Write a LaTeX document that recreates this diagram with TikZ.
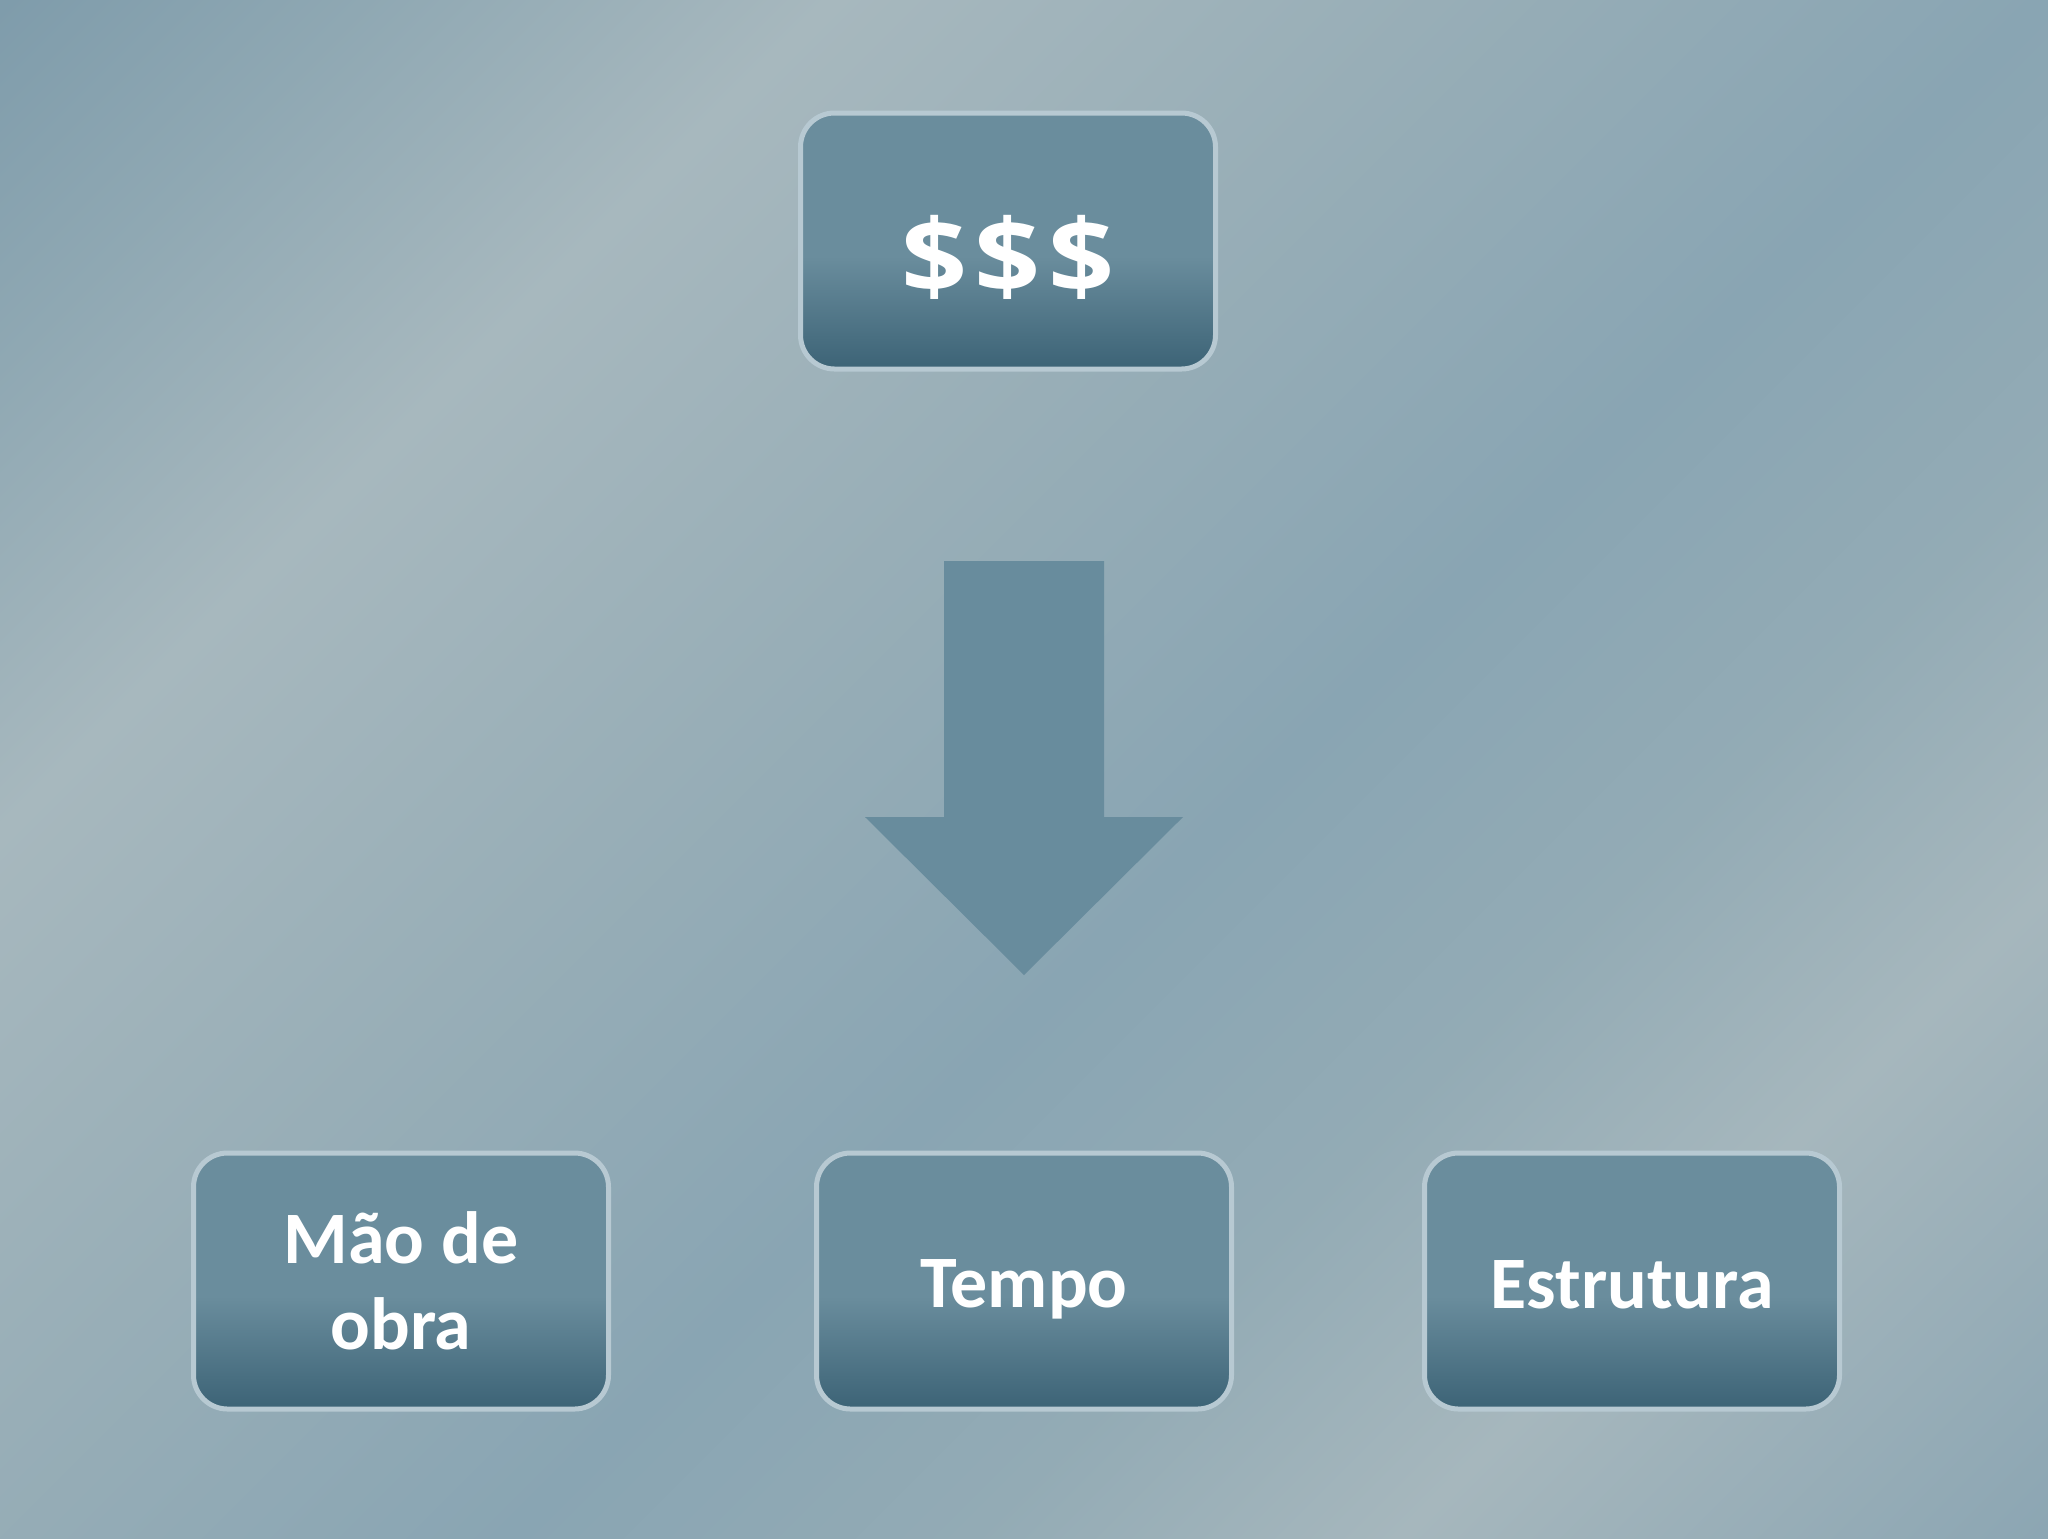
\documentclass[tikz,border=0pt]{standalone}
\usepackage{fontspec}
\setmainfont{Carlito}
\newfontfamily\dollarfont{Open Sans}
\definecolor{bgA}{HTML}{7F9CAB}
\definecolor{bgB}{HTML}{8FA8B3}
\definecolor{bgC}{HTML}{A7B8BE}
\definecolor{bgD}{HTML}{98AEB7}
\definecolor{bgE}{HTML}{89A5B3}
\definecolor{bgF}{HTML}{93ABB5}
\definecolor{bgG}{HTML}{A6B7BD}
\definecolor{bgH}{HTML}{8CA6B3}
\definecolor{bxlt}{HTML}{6A8D9D}
\definecolor{bxdk}{HTML}{3C6376}
\definecolor{bxline}{HTML}{B7C9D2}
\definecolor{arrowcol}{HTML}{688C9D}
\pgfdeclarehorizontalshading{bgsh}{100bp}{color(0bp)=(bgA); color(14.6bp)=(bgA); color(21.7bp)=(bgB); color(30.9bp)=(bgC); color(42.9bp)=(bgD); color(55bp)=(bgE); color(64.2bp)=(bgF); color(72.7bp)=(bgG); color(85.4bp)=(bgH); color(100bp)=(bgH)}
\pgfdeclareverticalshading{boxsh}{100bp}{color(0bp)=(bxdk); color(25bp)=(bxdk); color(47bp)=(bxlt); color(75bp)=(bxlt); color(100bp)=(bxlt)}
\tikzset{
  box/.style={rectangle, rounded corners=17pt, draw=bxline, line width=2.5pt,
    shading=boxsh, minimum width=207.5pt, minimum height=128pt, inner sep=0pt,
    text=white, font=\fontsize{37}{43}\selectfont\bfseries, align=center},
  bigtext/.style={font=\dollarfont\fontsize{46}{56}\selectfont\bfseries},
  blockarrow/.style={fill=arrowcol, draw=none}
}
\begin{document}
\begin{tikzpicture}[x=0.5pt,y=-0.5pt]
\useasboundingbox (0,0) rectangle (2048,1538);
\shade[shading=bgsh, shading angle=-45] (0,0) rectangle (2048,1538);
\node[box, bigtext] (money) at (1008,241) {\raisebox{-8pt}[\height][\depth]{\scalebox{1.26}[1.12]{\$\kern3pt\$\kern3pt\$}}};
\node[box] (mao) at (401,1281) {Mão de\\obra};
\node[box] (tempo) at (1024,1281) {\raisebox{-4pt}[\height][\depth]{Tempo}};
\node[box] (estrutura) at (1632,1281) {\raisebox{-2pt}[\height][\depth]{Estrutura}};
\coordinate (tip) at (1024,975);
\fill[blockarrow] (944,561) -- (1104,561) -- (1104,817) -- (1183,817) -- (tip) -- (865,817) -- (944,817) -- cycle;
\end{tikzpicture}
\end{document}
